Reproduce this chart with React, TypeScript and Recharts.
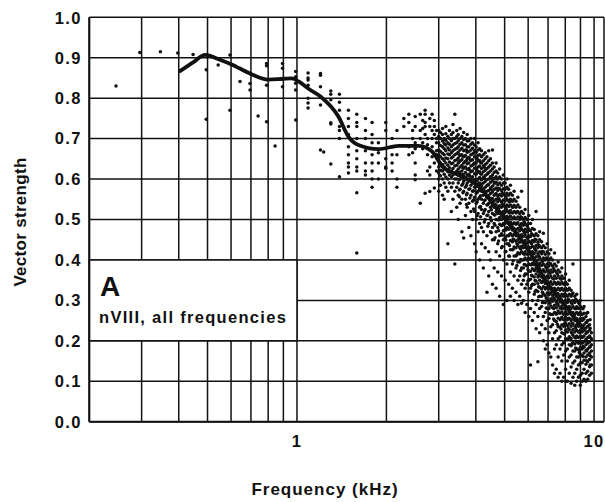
import React from "react";
import { ComposedChart, XAxis, YAxis, CartesianGrid, Scatter, Line, ReferenceArea } from "recharts";

// axis ticks (log x axis, kHz)
const X_TICKS = [0.3, 0.4, 0.5, 0.6, 0.7, 0.8, 0.9, 1, 2, 3, 4, 5, 6, 7, 8, 9, 10];
const X_LABELED = [1, 10];
const Y_TICKS = [0, 0.1, 0.2, 0.3, 0.4, 0.5, 0.6, 0.7, 0.8, 0.9, 1.0];

// smoothed mean curve [kHz, vector strength]
const CURVE: [number, number][] = [
  [0.4, 0.865], [0.45, 0.89], [0.49, 0.907], [0.55, 0.895], [0.6, 0.884], [0.7, 0.86],
  [0.8, 0.846], [0.9, 0.848], [0.96, 0.849], [1.02, 0.84], [1.1, 0.822], [1.2, 0.804],
  [1.38, 0.754], [1.49, 0.705], [1.61, 0.684], [1.88, 0.674], [2.2, 0.682], [2.57, 0.682],
  [2.85, 0.668], [3.08, 0.632], [3.5, 0.61], [3.9, 0.593], [4.1, 0.581], [4.55, 0.54],
  [5.05, 0.499], [5.6, 0.457], [6.2, 0.408], [6.7, 0.36], [7.3, 0.322], [8.0, 0.287],
  [8.7, 0.252], [9.3, 0.226],
];

// single units below 1 kHz [kHz, vs]
const LOW_POINTS: [number, number][] = [
  [0.246, 0.83], [0.296, 0.913], [0.347, 0.915], [0.397, 0.912], [0.447, 0.908], [0.495, 0.87],
  [0.495, 0.748], [0.543, 0.882], [0.595, 0.907], [0.595, 0.77], [0.643, 0.841], [0.695, 0.861],
  [0.695, 0.836], [0.695, 0.82], [0.74, 0.756], [0.79, 0.886], [0.79, 0.88], [0.79, 0.832],
  [0.79, 0.742], [0.844, 0.682], [0.894, 0.886], [0.894, 0.874], [0.894, 0.828], [0.99, 0.866],
  [0.99, 0.853], [0.99, 0.837], [0.99, 0.82], [0.99, 0.746],
];

// 1-3 kHz, per stimulus frequency
const MID_COLUMNS: [number, number[]][] = [
  [1.09, [0.862, 0.85, 0.845, 0.832, 0.8, 0.788, 0.776]],
  [1.2, [0.861, 0.857, 0.828, 0.783, 0.672]],
  [1.23, [0.667]],
  [1.3, [0.818, 0.81, 0.796, 0.739, 0.736, 0.637]],
  [1.39, [0.81, 0.79, 0.77, 0.75, 0.73, 0.72, 0.7, 0.606]],
  [1.49, [0.77, 0.75, 0.73, 0.71, 0.68, 0.66, 0.64, 0.63, 0.615]],
  [1.59, [0.76, 0.74, 0.73, 0.7, 0.67, 0.65, 0.63, 0.62, 0.566, 0.417]],
  [1.7, [0.75, 0.72, 0.7, 0.67, 0.64, 0.62, 0.61]],
  [1.79, [0.74, 0.71, 0.69, 0.66, 0.64, 0.62, 0.6, 0.58]],
  [1.88, [0.69, 0.665, 0.64, 0.6]],
  [1.99, [0.74, 0.72, 0.65, 0.63, 0.627]],
  [2.09, [0.7, 0.68, 0.66, 0.64, 0.62]],
  [2.17, [0.72, 0.66, 0.6, 0.58]],
  [2.29, [0.75, 0.73]],
  [2.38, [0.76, 0.74, 0.68, 0.66]],
  [2.45, [0.72, 0.7, 0.665]],
  [2.5, [0.755, 0.73, 0.69, 0.68, 0.675, 0.64, 0.61, 0.598]],
  [2.6, [0.76, 0.72, 0.7, 0.54]],
  [2.65, [0.745, 0.725, 0.69, 0.675]],
  [2.7, [0.77, 0.76, 0.74, 0.73, 0.71, 0.565]],
  [2.75, [0.7, 0.685, 0.66, 0.62]],
  [2.8, [0.75, 0.73, 0.63, 0.61, 0.569]],
  [2.85, [0.76, 0.72, 0.7, 0.68, 0.655]],
  [2.9, [0.745, 0.73, 0.71, 0.64, 0.578]],
  [2.95, [0.72, 0.7, 0.69, 0.67, 0.66, 0.62]],
];

// 3-10 kHz, dense band
const HIGH_COLUMNS: [number, number[]][] = [
  [3.0, [0.72, 0.705, 0.69, 0.672, 0.66, 0.648, 0.63, 0.615, 0.6, 0.57]],
  [3.04, [0.715, 0.7, 0.683, 0.668, 0.655, 0.64, 0.622, 0.608, 0.585]],
  [3.09, [0.725, 0.71, 0.694, 0.68, 0.664, 0.65, 0.636, 0.62, 0.6, 0.56]],
  [3.13, [0.7, 0.688, 0.675, 0.66, 0.645, 0.63, 0.612, 0.59, 0.55]],
  [3.17, [0.73, 0.712, 0.696, 0.684, 0.67, 0.652, 0.64, 0.624, 0.605, 0.58]],
  [3.22, [0.705, 0.69, 0.677, 0.662, 0.65, 0.634, 0.618, 0.6, 0.57, 0.44]],
  [3.26, [0.72, 0.7, 0.686, 0.672, 0.66, 0.642, 0.628, 0.61, 0.59]],
  [3.31, [0.71, 0.695, 0.68, 0.665, 0.652, 0.638, 0.62, 0.605, 0.58, 0.52]],
  [3.35, [0.735, 0.715, 0.7, 0.684, 0.67, 0.655, 0.64, 0.626, 0.61, 0.59, 0.55]],
  [3.4, [0.76, 0.7, 0.688, 0.674, 0.66, 0.646, 0.632, 0.615, 0.6, 0.57, 0.39]],
  [3.45, [0.72, 0.705, 0.69, 0.676, 0.663, 0.648, 0.634, 0.62, 0.6, 0.58, 0.53]],
  [3.49, [0.71, 0.695, 0.68, 0.667, 0.652, 0.64, 0.625, 0.61, 0.59, 0.56, 0.5]],
  [3.54, [0.725, 0.7, 0.686, 0.672, 0.658, 0.645, 0.63, 0.614, 0.6, 0.575, 0.54]],
  [3.59, [0.705, 0.69, 0.676, 0.66, 0.648, 0.634, 0.62, 0.605, 0.585, 0.55, 0.47]],
  [3.64, [0.715, 0.698, 0.684, 0.67, 0.655, 0.64, 0.627, 0.61, 0.595, 0.57, 0.454]],
  [3.69, [0.7, 0.685, 0.672, 0.658, 0.644, 0.63, 0.616, 0.6, 0.58, 0.55, 0.51]],
  [3.74, [0.71, 0.694, 0.68, 0.666, 0.652, 0.638, 0.624, 0.61, 0.59, 0.565, 0.53]],
  [3.79, [0.695, 0.68, 0.668, 0.654, 0.64, 0.626, 0.612, 0.595, 0.575, 0.54, 0.48]],
  [3.85, [0.7, 0.686, 0.672, 0.66, 0.646, 0.632, 0.618, 0.6, 0.585, 0.56, 0.52, 0.46]],
  [3.9, [0.69, 0.676, 0.662, 0.648, 0.634, 0.62, 0.606, 0.59, 0.57, 0.545, 0.5]],
  [3.96, [0.7, 0.684, 0.67, 0.655, 0.64, 0.627, 0.613, 0.598, 0.58, 0.555, 0.52, 0.44]],
  [4.01, [0.68, 0.666, 0.652, 0.64, 0.626, 0.612, 0.598, 0.583, 0.565, 0.54, 0.5, 0.42]],
  [4.07, [0.69, 0.672, 0.658, 0.645, 0.63, 0.617, 0.6, 0.588, 0.57, 0.55, 0.515, 0.47]],
  [4.12, [0.675, 0.66, 0.646, 0.632, 0.618, 0.604, 0.59, 0.575, 0.555, 0.53, 0.49, 0.4]],
  [4.18, [0.67, 0.655, 0.64, 0.626, 0.612, 0.598, 0.584, 0.57, 0.55, 0.525, 0.48, 0.44]],
  [4.24, [0.66, 0.645, 0.632, 0.618, 0.604, 0.59, 0.576, 0.56, 0.54, 0.515, 0.47, 0.38]],
  [4.3, [0.665, 0.65, 0.636, 0.622, 0.608, 0.594, 0.58, 0.565, 0.548, 0.525, 0.5, 0.43]],
  [4.36, [0.655, 0.64, 0.626, 0.612, 0.598, 0.584, 0.57, 0.555, 0.536, 0.51, 0.46, 0.32]],
  [4.42, [0.67, 0.645, 0.63, 0.616, 0.6, 0.586, 0.572, 0.558, 0.54, 0.52, 0.49, 0.42, 0.36]],
  [4.48, [0.65, 0.634, 0.62, 0.606, 0.592, 0.578, 0.564, 0.55, 0.53, 0.505, 0.47, 0.4]],
  [4.55, [0.672, 0.64, 0.625, 0.61, 0.596, 0.582, 0.568, 0.552, 0.535, 0.515, 0.48, 0.45, 0.34]],
  [4.61, [0.63, 0.616, 0.602, 0.588, 0.574, 0.56, 0.546, 0.53, 0.512, 0.49, 0.45, 0.38]],
  [4.68, [0.64, 0.62, 0.606, 0.592, 0.578, 0.564, 0.55, 0.535, 0.52, 0.5, 0.47, 0.42, 0.33]],
  [4.74, [0.615, 0.6, 0.586, 0.572, 0.558, 0.544, 0.53, 0.515, 0.5, 0.48, 0.44, 0.37]],
  [4.81, [0.625, 0.605, 0.59, 0.576, 0.562, 0.548, 0.534, 0.52, 0.505, 0.488, 0.46, 0.41, 0.31]],
  [4.88, [0.6, 0.585, 0.572, 0.558, 0.544, 0.53, 0.516, 0.5, 0.485, 0.465, 0.43, 0.36]],
  [4.95, [0.61, 0.59, 0.576, 0.562, 0.548, 0.534, 0.52, 0.506, 0.49, 0.472, 0.45, 0.4, 0.29]],
  [5.02, [0.59, 0.575, 0.56, 0.546, 0.532, 0.518, 0.504, 0.49, 0.475, 0.455, 0.42, 0.35]],
  [5.09, [0.6, 0.58, 0.565, 0.55, 0.536, 0.522, 0.508, 0.494, 0.48, 0.46, 0.44, 0.39, 0.3]],
  [5.16, [0.575, 0.56, 0.546, 0.532, 0.518, 0.504, 0.49, 0.476, 0.46, 0.44, 0.41, 0.34]],
  [5.23, [0.585, 0.565, 0.55, 0.536, 0.522, 0.508, 0.494, 0.48, 0.465, 0.448, 0.425, 0.37, 0.31]],
  [5.31, [0.56, 0.545, 0.53, 0.516, 0.502, 0.488, 0.474, 0.46, 0.445, 0.425, 0.39, 0.33]],
  [5.38, [0.57, 0.55, 0.535, 0.52, 0.506, 0.492, 0.478, 0.464, 0.45, 0.432, 0.41, 0.36, 0.3]],
  [5.46, [0.545, 0.53, 0.516, 0.502, 0.488, 0.474, 0.46, 0.446, 0.43, 0.41, 0.38, 0.32]],
  [5.54, [0.555, 0.536, 0.52, 0.506, 0.492, 0.478, 0.464, 0.45, 0.436, 0.418, 0.395, 0.35, 0.29]],
  [5.62, [0.53, 0.515, 0.5, 0.486, 0.472, 0.458, 0.444, 0.43, 0.415, 0.395, 0.36, 0.31]],
  [5.7, [0.57, 0.52, 0.505, 0.49, 0.476, 0.462, 0.448, 0.434, 0.42, 0.4, 0.38, 0.34, 0.293]],
  [5.78, [0.515, 0.5, 0.486, 0.472, 0.458, 0.444, 0.43, 0.416, 0.4, 0.38, 0.35, 0.3]],
  [5.86, [0.525, 0.505, 0.49, 0.476, 0.462, 0.448, 0.434, 0.42, 0.405, 0.388, 0.365, 0.33, 0.27]],
  [5.94, [0.5, 0.485, 0.47, 0.456, 0.442, 0.428, 0.414, 0.4, 0.385, 0.365, 0.34, 0.29]],
  [6.03, [0.51, 0.49, 0.475, 0.46, 0.446, 0.432, 0.418, 0.404, 0.39, 0.372, 0.35, 0.32, 0.26]],
  [6.11, [0.49, 0.472, 0.458, 0.444, 0.43, 0.416, 0.402, 0.388, 0.372, 0.352, 0.33, 0.28, 0.14]],
  [6.2, [0.5, 0.478, 0.462, 0.448, 0.434, 0.42, 0.406, 0.392, 0.378, 0.36, 0.34, 0.3, 0.25]],
  [6.29, [0.475, 0.46, 0.445, 0.43, 0.416, 0.402, 0.388, 0.374, 0.358, 0.34, 0.315, 0.27]],
  [6.38, [0.52, 0.465, 0.45, 0.436, 0.422, 0.408, 0.394, 0.38, 0.365, 0.348, 0.325, 0.29, 0.23]],
  [6.47, [0.46, 0.444, 0.43, 0.415, 0.4, 0.386, 0.372, 0.358, 0.342, 0.322, 0.3, 0.26, 0.148]],
  [6.56, [0.47, 0.45, 0.434, 0.42, 0.406, 0.392, 0.378, 0.364, 0.35, 0.332, 0.31, 0.28, 0.22]],
  [6.66, [0.445, 0.43, 0.415, 0.4, 0.386, 0.372, 0.358, 0.344, 0.328, 0.31, 0.285, 0.24]],
  [6.75, [0.466, 0.435, 0.42, 0.405, 0.39, 0.376, 0.362, 0.348, 0.334, 0.316, 0.295, 0.26, 0.2]],
  [6.85, [0.43, 0.414, 0.4, 0.385, 0.37, 0.356, 0.342, 0.328, 0.312, 0.294, 0.27, 0.23, 0.18]],
  [6.95, [0.44, 0.42, 0.404, 0.39, 0.375, 0.36, 0.346, 0.332, 0.318, 0.3, 0.28, 0.25, 0.19]],
  [7.05, [0.415, 0.4, 0.385, 0.37, 0.356, 0.342, 0.328, 0.314, 0.298, 0.28, 0.255, 0.22, 0.17]],
  [7.15, [0.425, 0.405, 0.39, 0.375, 0.36, 0.346, 0.332, 0.318, 0.304, 0.286, 0.265, 0.235, 0.16]],
  [7.25, [0.4, 0.385, 0.37, 0.355, 0.34, 0.326, 0.312, 0.298, 0.282, 0.265, 0.24, 0.205, 0.14]],
  [7.36, [0.417, 0.39, 0.374, 0.36, 0.345, 0.33, 0.316, 0.302, 0.288, 0.27, 0.25, 0.22, 0.18, 0.12]],
  [7.46, [0.385, 0.37, 0.355, 0.34, 0.325, 0.31, 0.296, 0.282, 0.266, 0.248, 0.225, 0.19, 0.13]],
  [7.57, [0.395, 0.375, 0.36, 0.345, 0.33, 0.316, 0.302, 0.288, 0.274, 0.256, 0.235, 0.205, 0.16, 0.11]],
  [7.68, [0.37, 0.355, 0.34, 0.325, 0.31, 0.296, 0.282, 0.268, 0.252, 0.234, 0.21, 0.18, 0.12]],
  [7.79, [0.38, 0.36, 0.345, 0.33, 0.315, 0.3, 0.286, 0.272, 0.258, 0.24, 0.22, 0.19, 0.15, 0.1]],
  [7.9, [0.355, 0.34, 0.325, 0.31, 0.295, 0.28, 0.266, 0.252, 0.236, 0.218, 0.195, 0.165, 0.11]],
  [8.02, [0.365, 0.345, 0.33, 0.315, 0.3, 0.286, 0.272, 0.258, 0.244, 0.226, 0.205, 0.175, 0.13, 0.1]],
  [8.13, [0.34, 0.325, 0.31, 0.295, 0.28, 0.266, 0.252, 0.238, 0.222, 0.204, 0.18, 0.15, 0.1]],
  [8.25, [0.35, 0.33, 0.315, 0.3, 0.285, 0.27, 0.256, 0.242, 0.228, 0.21, 0.19, 0.16, 0.12]],
  [8.37, [0.325, 0.31, 0.295, 0.28, 0.265, 0.25, 0.236, 0.222, 0.206, 0.188, 0.165, 0.135, 0.095]],
  [8.49, [0.39, 0.318, 0.3, 0.285, 0.27, 0.256, 0.242, 0.228, 0.214, 0.196, 0.175, 0.145, 0.11]],
  [8.61, [0.31, 0.295, 0.28, 0.265, 0.25, 0.236, 0.222, 0.208, 0.192, 0.175, 0.15, 0.12, 0.09]],
  [8.74, [0.315, 0.3, 0.284, 0.27, 0.255, 0.24, 0.226, 0.212, 0.198, 0.18, 0.16, 0.13, 0.1]],
  [8.86, [0.295, 0.28, 0.265, 0.25, 0.236, 0.222, 0.208, 0.194, 0.178, 0.16, 0.14, 0.11]],
  [8.99, [0.3, 0.285, 0.27, 0.255, 0.24, 0.226, 0.212, 0.198, 0.184, 0.166, 0.145, 0.115, 0.09]],
  [9.12, [0.28, 0.265, 0.25, 0.236, 0.222, 0.208, 0.194, 0.18, 0.164, 0.146, 0.12, 0.1]],
  [9.25, [0.285, 0.268, 0.254, 0.24, 0.226, 0.212, 0.198, 0.184, 0.17, 0.152, 0.13, 0.105]],
  [9.39, [0.26, 0.245, 0.232, 0.218, 0.204, 0.19, 0.176, 0.16, 0.142, 0.12, 0.1]],
  [9.52, [0.27, 0.25, 0.236, 0.222, 0.208, 0.194, 0.18, 0.165, 0.148, 0.125, 0.105]],
  [9.66, [0.24, 0.226, 0.212, 0.198, 0.184, 0.17, 0.154, 0.136, 0.115]],
  [9.8, [0.22, 0.205, 0.19, 0.175, 0.16, 0.14, 0.12]],
];

// extra units packed close to the mean curve, 3.5-10 kHz
const CORE_COLUMNS: [number, number[]][] = [
  [3.52, [0.66, 0.643, 0.617, 0.598, 0.573, 0.556]],
  [3.62, [0.655, 0.628, 0.611, 0.589, 0.566]],
  [3.72, [0.672, 0.646, 0.603, 0.584, 0.561, 0.537]],
  [3.82, [0.649, 0.622, 0.607, 0.576, 0.553]],
  [3.93, [0.664, 0.637, 0.594, 0.571, 0.548, 0.526]],
  [4.04, [0.651, 0.621, 0.596, 0.567, 0.543, 0.509]],
  [4.15, [0.641, 0.613, 0.588, 0.559, 0.532, 0.507]],
  [4.27, [0.629, 0.602, 0.571, 0.547, 0.521, 0.494]],
  [4.39, [0.614, 0.586, 0.559, 0.537, 0.511, 0.483]],
  [4.51, [0.603, 0.574, 0.552, 0.524, 0.497, 0.468]],
  [4.64, [0.592, 0.561, 0.538, 0.511, 0.486, 0.455]],
  [4.77, [0.577, 0.552, 0.526, 0.499, 0.472, 0.447]],
  [4.91, [0.566, 0.539, 0.513, 0.486, 0.461, 0.433]],
  [5.05, [0.556, 0.528, 0.503, 0.474, 0.449, 0.421]],
  [5.19, [0.543, 0.516, 0.489, 0.463, 0.436, 0.409]],
  [5.34, [0.531, 0.503, 0.479, 0.452, 0.426, 0.398]],
  [5.5, [0.519, 0.491, 0.466, 0.44, 0.413, 0.386]],
  [5.66, [0.507, 0.481, 0.455, 0.427, 0.401, 0.374]],
  [5.82, [0.494, 0.468, 0.441, 0.414, 0.389, 0.361]],
  [5.99, [0.479, 0.453, 0.427, 0.401, 0.376, 0.348]],
  [6.16, [0.465, 0.44, 0.413, 0.388, 0.362, 0.336]],
  [6.33, [0.451, 0.426, 0.399, 0.375, 0.349, 0.322]],
  [6.51, [0.437, 0.41, 0.386, 0.361, 0.334, 0.309]],
  [6.7, [0.421, 0.396, 0.371, 0.346, 0.32, 0.295]],
  [6.9, [0.405, 0.381, 0.356, 0.332, 0.306, 0.281]],
  [7.1, [0.392, 0.367, 0.343, 0.318, 0.293, 0.267]],
  [7.31, [0.379, 0.353, 0.329, 0.305, 0.28, 0.254]],
  [7.52, [0.366, 0.341, 0.317, 0.292, 0.268, 0.241]],
  [7.74, [0.352, 0.328, 0.304, 0.28, 0.255, 0.229]],
  [7.96, [0.341, 0.316, 0.292, 0.267, 0.243, 0.217]],
  [8.19, [0.327, 0.303, 0.279, 0.255, 0.231, 0.205]],
  [8.43, [0.315, 0.291, 0.267, 0.243, 0.219, 0.193]],
  [8.67, [0.303, 0.279, 0.256, 0.232, 0.207, 0.182]],
  [8.92, [0.291, 0.268, 0.244, 0.221, 0.196, 0.171]],
  [9.18, [0.279, 0.256, 0.233, 0.21, 0.186, 0.161]],
  [9.44, [0.268, 0.245, 0.222, 0.199, 0.175, 0.151]],
  [9.7, [0.252, 0.231, 0.208, 0.186, 0.163, 0.14]],
];

const curveData = CURVE.map(([f, v]) => ({ f, v }));
const pointData = [
  ...LOW_POINTS.map(([f, v]) => ({ f, v })),
  ...[...MID_COLUMNS, ...HIGH_COLUMNS, ...CORE_COLUMNS].flatMap(([f, vs]) => vs.map((v) => ({ f, v }))),
];

const INK = "#111";
const FONT = '"Liberation Sans", Arial, Helvetica, sans-serif';

const Dot = (props: any) => <circle cx={props.cx} cy={props.cy} r={1.75} fill={INK} />;

const tickStyle = { fontSize: 16.5, fontWeight: 700, fill: INK, fontFamily: FONT, letterSpacing: 1.4 };

export default function App() {
  return (
    <div style={{ width: 605, height: 502, overflow: "hidden", background: "#fff" }}>
      <style>{"body{margin:0;overflow:hidden;background:#fff}"}</style>
      <div style={{ position: "relative", left: 8, top: 8, width: 597, height: 494, fontFamily: FONT }}>
        <ComposedChart width={597} height={494} margin={{ top: 9.3, right: 1, bottom: 0, left: 0 }}>
          <CartesianGrid stroke={INK} strokeWidth={1.5} />
          <XAxis
            dataKey="f"
            type="number"
            scale="log"
            domain={[0.2, 10.8]}
            allowDataOverflow
            ticks={X_TICKS}
            tickFormatter={(t: number) => (X_LABELED.includes(t) ? String(t) : "")}
            tick={tickStyle}
            tickLine={false}
            tickSize={0}
            tickMargin={14}
            height={80.3}
            axisLine={{ stroke: INK, strokeWidth: 2 }}
          />
          <YAxis
            type="number"
            domain={[0, 1]}
            ticks={Y_TICKS}
            tickFormatter={(t: number) => t.toFixed(1)}
            tick={tickStyle}
            tickLine={false}
            tickSize={0}
            tickMargin={7.5}
            width={81.3}
            axisLine={{ stroke: INK, strokeWidth: 2 }}
          />
          <ReferenceArea x1={0.2} x2={1} y1={0.2} y2={0.4} fill="#fff" fillOpacity={1} stroke={INK} strokeWidth={1.5} />
          <Scatter data={pointData} dataKey="v" shape={Dot} isAnimationActive={false} />
          <Line data={curveData} dataKey="v" type="monotone" stroke={INK} strokeWidth={3.8} dot={false} isAnimationActive={false} />
        </ComposedChart>
        <div style={{ position: "absolute", left: 92, top: 265, fontSize: 28, lineHeight: "28px", fontWeight: 700, color: INK }}>A</div>
        <div style={{ position: "absolute", left: 91, top: 300.5, fontSize: 16.5, lineHeight: "16px", letterSpacing: 1.3, fontWeight: 700, color: INK, whiteSpace: "nowrap" }}>
          nVIII, all frequencies
        </div>
        <div style={{ position: "absolute", left: 317, top: 473, transform: "translateX(-50%)", fontSize: 17, lineHeight: "17px", letterSpacing: 1, fontWeight: 700, color: INK, whiteSpace: "nowrap" }}>
          Frequency (kHz)
        </div>
        <div style={{ position: "absolute", left: 12, top: 214, transform: "translate(-50%,-50%) rotate(-90deg)", fontSize: 17, lineHeight: "17px", letterSpacing: 0.3, fontWeight: 700, color: INK, whiteSpace: "nowrap" }}>
          Vector strength
        </div>
      </div>
    </div>
  );
}
